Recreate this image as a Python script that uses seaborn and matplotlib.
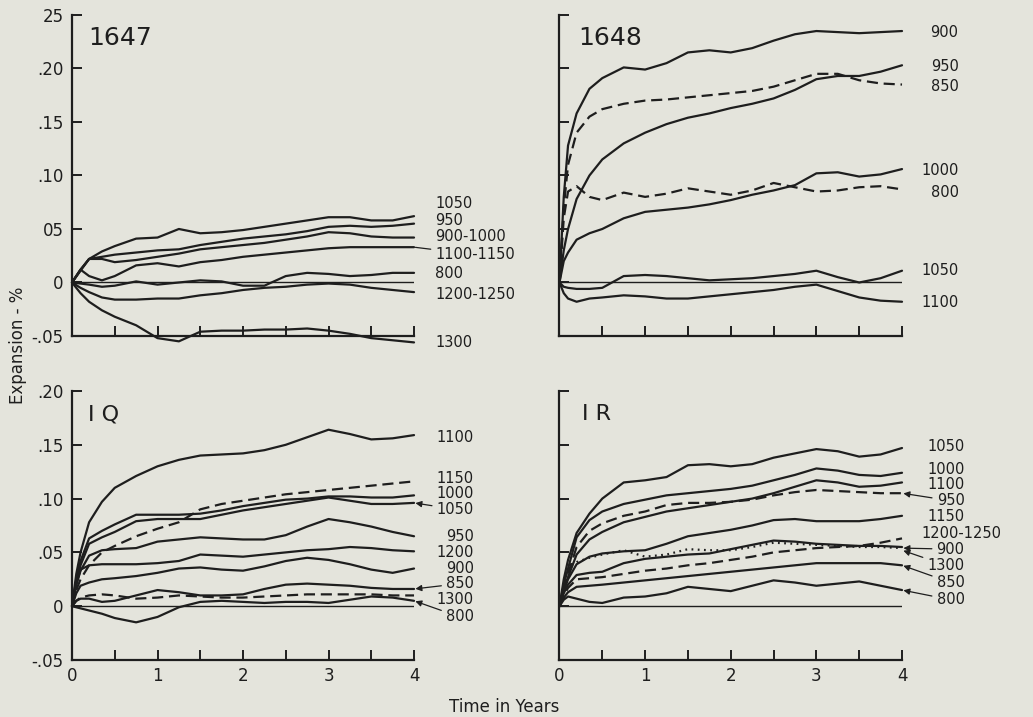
import numpy as np
import pandas as pd
import matplotlib
matplotlib.use("Agg")
import matplotlib.pyplot as plt
import seaborn as sns

# ---------------- data ----------------
# time in years
T_1647 = [0, 0.1, 0.2, 0.35, 0.5, 0.75, 1.0, 1.25, 1.5, 1.75, 2.0, 2.25, 2.5, 2.75, 3.0, 3.25, 3.5, 3.75, 4.0]
T_GRID = [0, 0.05, 0.1, 0.2, 0.35, 0.5, 0.75, 1.0, 1.25, 1.5, 1.75, 2.0, 2.25, 2.5, 2.75, 3.0, 3.25, 3.5, 3.75, 4.0]

# panel 1647 (expansion %)
v1647_1050 = [0, 0.011, 0.022, 0.029, 0.034, 0.041, 0.042, 0.050, 0.046, 0.047, 0.049, 0.052, 0.055, 0.058, 0.061, 0.061, 0.058, 0.058, 0.062]
v1647_950 = [0, 0.012, 0.022, 0.024, 0.026, 0.028, 0.030, 0.031, 0.035, 0.038, 0.041, 0.043, 0.045, 0.048, 0.052, 0.053, 0.052, 0.053, 0.055]
v1647_900_1000 = [0, 0.012, 0.022, 0.022, 0.019, 0.021, 0.024, 0.027, 0.031, 0.033, 0.035, 0.037, 0.040, 0.043, 0.047, 0.046, 0.043, 0.042, 0.042]
v1647_1100_1150 = [0, 0.012, 0.006, 0.002, 0.006, 0.016, 0.018, 0.015, 0.019, 0.021, 0.024, 0.026, 0.028, 0.030, 0.032, 0.033, 0.033, 0.033, 0.033]
v1647_800 = [0, -0.001, -0.002, -0.004, -0.003, 0.001, -0.002, 0.000, 0.002, 0.001, -0.003, -0.003, 0.006, 0.009, 0.008, 0.006, 0.007, 0.009, 0.009]
v1647_1200_1250 = [0, -0.005, -0.009, -0.014, -0.016, -0.016, -0.015, -0.015, -0.012, -0.010, -0.007, -0.005, -0.004, -0.002, -0.001, -0.002, -0.005, -0.007, -0.009]
v1647_1300 = [0, -0.010, -0.018, -0.026, -0.032, -0.040, -0.052, -0.055, -0.046, -0.045, -0.045, -0.044, -0.044, -0.043, -0.045, -0.048, -0.052, -0.054, -0.056]

# panel 1648
v1648_900 = [0, 0.080, 0.128, 0.158, 0.181, 0.191, 0.201, 0.199, 0.205, 0.215, 0.217, 0.215, 0.219, 0.226, 0.232, 0.235, 0.234, 0.233, 0.234, 0.235]
v1648_950 = [0, 0.030, 0.050, 0.078, 0.100, 0.115, 0.130, 0.140, 0.148, 0.154, 0.158, 0.163, 0.167, 0.172, 0.180, 0.190, 0.193, 0.193, 0.197, 0.203]
v1648_850 = [0, 0.070, 0.110, 0.140, 0.155, 0.162, 0.167, 0.170, 0.171, 0.173, 0.175, 0.177, 0.179, 0.183, 0.189, 0.195, 0.195, 0.189, 0.186, 0.185]
v1648_1000 = [0, 0.020, 0.028, 0.040, 0.046, 0.050, 0.060, 0.066, 0.068, 0.070, 0.073, 0.077, 0.082, 0.086, 0.091, 0.102, 0.103, 0.099, 0.101, 0.106]
v1648_800 = [0, 0.060, 0.085, 0.090, 0.080, 0.077, 0.084, 0.080, 0.083, 0.088, 0.085, 0.082, 0.086, 0.093, 0.089, 0.085, 0.086, 0.089, 0.090, 0.087]
v1648_1050 = [0, -0.004, -0.005, -0.006, -0.006, -0.005, 0.006, 0.007, 0.006, 0.004, 0.002, 0.003, 0.004, 0.006, 0.008, 0.011, 0.005, 0.000, 0.004, 0.011]
v1648_1100 = [0, -0.010, -0.015, -0.018, -0.015, -0.014, -0.012, -0.013, -0.015, -0.015, -0.013, -0.011, -0.009, -0.007, -0.004, -0.002, -0.008, -0.014, -0.017, -0.018]

# panel IQ
vIQ_1100 = [0, 0.030, 0.050, 0.078, 0.097, 0.110, 0.121, 0.130, 0.136, 0.140, 0.141, 0.142, 0.145, 0.150, 0.157, 0.164, 0.160, 0.155, 0.156, 0.159]
vIQ_1150 = [0, 0.015, 0.025, 0.038, 0.050, 0.056, 0.065, 0.072, 0.078, 0.090, 0.095, 0.098, 0.101, 0.104, 0.106, 0.108, 0.110, 0.112, 0.114, 0.116]
vIQ_1000 = [0, 0.025, 0.042, 0.063, 0.070, 0.076, 0.085, 0.085, 0.085, 0.086, 0.089, 0.093, 0.096, 0.099, 0.100, 0.102, 0.102, 0.101, 0.101, 0.103]
vIQ_1050 = [0, 0.022, 0.038, 0.058, 0.064, 0.069, 0.079, 0.081, 0.081, 0.081, 0.085, 0.089, 0.092, 0.095, 0.098, 0.101, 0.098, 0.095, 0.095, 0.096]
vIQ_950 = [0, 0.020, 0.033, 0.047, 0.052, 0.053, 0.054, 0.060, 0.062, 0.064, 0.063, 0.062, 0.062, 0.066, 0.074, 0.081, 0.078, 0.074, 0.069, 0.065]
vIQ_1200 = [0, 0.020, 0.034, 0.038, 0.039, 0.039, 0.039, 0.040, 0.042, 0.048, 0.047, 0.046, 0.048, 0.050, 0.052, 0.053, 0.055, 0.054, 0.052, 0.051]
vIQ_900 = [0, 0.012, 0.019, 0.022, 0.025, 0.026, 0.028, 0.031, 0.035, 0.036, 0.034, 0.033, 0.037, 0.042, 0.045, 0.043, 0.039, 0.034, 0.031, 0.035]
vIQ_850 = [0, 0.005, 0.007, 0.007, 0.004, 0.005, 0.010, 0.015, 0.013, 0.010, 0.010, 0.011, 0.016, 0.020, 0.021, 0.020, 0.019, 0.017, 0.016, 0.016]
vIQ_1300 = [0, 0.005, 0.008, 0.010, 0.011, 0.010, 0.007, 0.008, 0.010, 0.009, 0.008, 0.008, 0.009, 0.010, 0.011, 0.011, 0.011, 0.011, 0.010, 0.010]
vIQ_800 = [0, -0.001, -0.002, -0.004, -0.007, -0.011, -0.015, -0.010, -0.001, 0.004, 0.005, 0.004, 0.003, 0.004, 0.004, 0.003, 0.006, 0.009, 0.008, 0.005]

# panel IR
vIR_1050 = [0, 0.025, 0.043, 0.068, 0.086, 0.100, 0.115, 0.117, 0.120, 0.131, 0.132, 0.130, 0.132, 0.138, 0.142, 0.146, 0.144, 0.139, 0.141, 0.147]
vIR_1000 = [0, 0.020, 0.035, 0.064, 0.080, 0.088, 0.095, 0.099, 0.103, 0.105, 0.107, 0.109, 0.112, 0.117, 0.122, 0.128, 0.126, 0.122, 0.121, 0.124]
vIR_1100 = [0, 0.015, 0.027, 0.048, 0.062, 0.069, 0.078, 0.083, 0.088, 0.091, 0.094, 0.097, 0.100, 0.105, 0.111, 0.117, 0.115, 0.111, 0.112, 0.115]
vIR_950 = [0, 0.018, 0.030, 0.055, 0.070, 0.077, 0.084, 0.088, 0.094, 0.096, 0.096, 0.097, 0.099, 0.103, 0.106, 0.108, 0.107, 0.106, 0.105, 0.105]
vIR_1150 = [0, 0.014, 0.025, 0.039, 0.046, 0.049, 0.051, 0.052, 0.058, 0.065, 0.068, 0.071, 0.075, 0.080, 0.081, 0.079, 0.079, 0.079, 0.081, 0.084]
vIR_1200_1250 = [0, 0.010, 0.017, 0.025, 0.026, 0.027, 0.030, 0.033, 0.035, 0.038, 0.040, 0.043, 0.046, 0.050, 0.052, 0.054, 0.055, 0.056, 0.059, 0.063]
vIR_900 = [0, 0.020, 0.036, 0.041, 0.045, 0.048, 0.052, 0.046, 0.048, 0.053, 0.052, 0.052, 0.055, 0.059, 0.058, 0.057, 0.056, 0.055, 0.055, 0.054]
vIR_1300 = [0, 0.012, 0.020, 0.029, 0.031, 0.032, 0.040, 0.044, 0.046, 0.048, 0.049, 0.053, 0.057, 0.061, 0.060, 0.058, 0.057, 0.056, 0.056, 0.055]
vIR_850 = [0, 0.008, 0.013, 0.018, 0.019, 0.020, 0.022, 0.024, 0.026, 0.028, 0.030, 0.032, 0.034, 0.036, 0.038, 0.040, 0.040, 0.040, 0.040, 0.038]
vIR_800 = [0, 0.006, 0.009, 0.007, 0.004, 0.003, 0.008, 0.009, 0.012, 0.018, 0.016, 0.014, 0.019, 0.024, 0.022, 0.019, 0.021, 0.023, 0.019, 0.015]

# tick labels (as printed)
X_TICKS = [0, 0.5, 1, 1.5, 2, 2.5, 3, 3.5, 4]
X_TICK_LABELS = ["0", "", "1", "", "2", "", "3", "", "4"]
Y_TICKS_TOP = [-0.05, 0, 0.05, 0.10, 0.15, 0.20, 0.25]
Y_LABELS_TOP = ["-.05", "0", "05", ".10", ".15", ".20", "25"]
Y_TICKS_BOT = [-0.05, 0, 0.05, 0.10, 0.15, 0.20]
Y_LABELS_BOT = ["-.05", "0", ".05", ".10", ".15", ".20"]

# ---------------- style ----------------
BG = "#e4e4dc"
INK = "#1e1e1e"
sns.set_theme(style="ticks")
plt.rcParams["font.family"] = ["DejaVu Sans"]
plt.rcParams["figure.facecolor"] = BG
plt.rcParams["axes.facecolor"] = BG
plt.rcParams["savefig.facecolor"] = BG
plt.rcParams["text.color"] = INK

SOLID, DASH, DOT = "solid", (0, (5, 2.6)), (0, (0.8, 2.0))
LFS = 10.5  # curve-label font size

fig = plt.figure(figsize=(10.33, 7.17), dpi=100)
axL_top = fig.add_axes([0.0697, 0.5314, 0.3311, 0.4477])
axR_top = fig.add_axes([0.5416, 0.5314, 0.3316, 0.4477])
axL_bot = fig.add_axes([0.0697, 0.0795, 0.3311, 0.3752])
axR_bot = fig.add_axes([0.5416, 0.0795, 0.3316, 0.3752])

panels = [
    dict(ax=axL_top, title="1647", tx=0.047, ty=0.965, tsize=18, T=T_1647, top=True, left=True,
         series=[(v1647_1050, SOLID), (v1647_950, SOLID), (v1647_900_1000, SOLID), (v1647_1100_1150, SOLID),
                 (v1647_800, SOLID), (v1647_1200_1250, SOLID), (v1647_1300, SOLID)],
         labels=[("1050", 4.25, 0.074, "left", None), ("950", 4.25, 0.058, "left", None),
                 ("900-1000", 4.25, 0.043, "left", None), ("1100-1150", 4.25, 0.026, "left", ("line", 0.033)),
                 ("800", 4.25, 0.008, "left", None), ("1200-1250", 4.25, -0.011, "left", None),
                 ("1300", 4.25, -0.056, "left", None)]),
    dict(ax=axR_top, title="1648", tx=0.054, ty=0.965, tsize=18, T=T_GRID, top=True, left=False,
         series=[(v1648_900, SOLID), (v1648_950, SOLID), (v1648_850, DASH), (v1648_1000, SOLID),
                 (v1648_800, DASH), (v1648_1050, SOLID), (v1648_1100, SOLID)],
         labels=[("900", 4.66, 0.234, "right", None), ("950", 4.66, 0.202, "right", None),
                 ("850", 4.66, 0.183, "right", None), ("1000", 4.66, 0.105, "right", None),
                 ("800", 4.66, 0.084, "right", None), ("1050", 4.66, 0.011, "right", None),
                 ("1100", 4.66, -0.019, "right", None)]),
    dict(ax=axL_bot, title="I Q", tx=0.047, ty=0.95, tsize=16, T=T_GRID, top=False, left=True,
         series=[(vIQ_1100, SOLID), (vIQ_1150, DASH), (vIQ_1000, SOLID), (vIQ_1050, SOLID), (vIQ_950, SOLID),
                 (vIQ_1200, SOLID), (vIQ_900, SOLID), (vIQ_850, SOLID), (vIQ_1300, DASH), (vIQ_800, SOLID)],
         labels=[("1100", 4.70, 0.157, "right", None), ("1150", 4.70, 0.119, "right", None),
                 ("1000", 4.70, 0.105, "right", None), ("1050", 4.70, 0.090, "right", ("arrow", 0.096)),
                 ("950", 4.70, 0.065, "right", None), ("1200", 4.70, 0.050, "right", None),
                 ("900", 4.70, 0.035, "right", None), ("850", 4.70, 0.021, "right", ("arrow", 0.016)),
                 ("1300", 4.70, 0.006, "right", None), ("800", 4.70, -0.010, "right", ("arrow", 0.005))]),
    dict(ax=axR_bot, title="I R", tx=0.066, ty=0.95, tsize=16, T=T_GRID, top=False, left=False,
         series=[(vIR_1050, SOLID), (vIR_1000, SOLID), (vIR_1100, SOLID), (vIR_950, DASH), (vIR_1150, SOLID),
                 (vIR_1200_1250, DASH), (vIR_900, DOT), (vIR_1300, SOLID), (vIR_850, SOLID), (vIR_800, SOLID)],
         labels=[("1050", 4.73, 0.148, "right", None), ("1000", 4.73, 0.127, "right", None),
                 ("1100", 4.73, 0.113, "right", None), ("950", 4.73, 0.098, "right", ("arrow", 0.105)),
                 ("1150", 4.73, 0.083, "right", None), ("1200-1250", 4.23, 0.068, "left", None),
                 ("900", 4.73, 0.053, "right", ("arrow", 0.054)), ("1300", 4.73, 0.038, "right", ("arrow", 0.052)),
                 ("850", 4.73, 0.022, "right", ("arrow", 0.038)), ("800", 4.73, 0.006, "right", ("arrow", 0.015))]),
]

for p in panels:
    ax = p["ax"]
    ax.axhline(0, color=INK, lw=1.0, zorder=1)
    for vals, ls in p["series"]:
        sns.lineplot(x=p["T"], y=vals, ax=ax, color=INK, lw=1.6, linestyle=ls, zorder=3, clip_on=False)
    ax.set_xlim(0, 4)
    if p["top"]:
        ax.set_ylim(-0.05, 0.25)
        ax.set_yticks(Y_TICKS_TOP)
        ax.set_yticklabels(Y_LABELS_TOP if p["left"] else [])
    else:
        ax.set_ylim(-0.05, 0.20)
        ax.set_yticks(Y_TICKS_BOT)
        ax.set_yticklabels(Y_LABELS_BOT if p["left"] else [])
    ax.set_xticks(X_TICKS)
    ax.set_xticklabels(X_TICK_LABELS if not p["top"] else [])
    sns.despine(ax=ax)
    for s in ("left", "bottom"):
        ax.spines[s].set_linewidth(1.6)
        ax.spines[s].set_color(INK)
    ax.tick_params(axis="both", direction="in", length=7, width=1.4, color=INK,
                   labelsize=12, labelcolor=INK)
    ax.tick_params(axis="y", pad=6)
    ax.tick_params(axis="x", pad=5)
    ax.set_xlabel("")
    ax.set_ylabel("")
    ax.text(p["tx"], p["ty"], p["title"], transform=ax.transAxes, fontsize=p["tsize"],
            va="top", ha="left", color=INK)
    for text, lx, ly, ha, lead in p["labels"]:
        if lead is None:
            ax.text(lx, ly, text, ha=ha, va="center", fontsize=LFS, color=INK, clip_on=False)
        else:
            kind, yv = lead
            style = "-" if kind == "line" else "-|>"
            ax.annotate(text, xy=(4.0, yv), xytext=(lx, ly), ha=ha, va="center", fontsize=LFS,
                        color=INK, annotation_clip=False,
                        arrowprops=dict(arrowstyle=style, color=INK, lw=0.9, shrinkA=1, shrinkB=1,
                                        mutation_scale=9))

fig.text(0.017, 0.519, "Expansion - %", rotation=90, ha="center", va="center", fontsize=12, color=INK)
fig.text(0.488, 0.014, "Time in Years", ha="center", va="center", fontsize=12, color=INK)

fig.savefig("out.png", dpi=100)
